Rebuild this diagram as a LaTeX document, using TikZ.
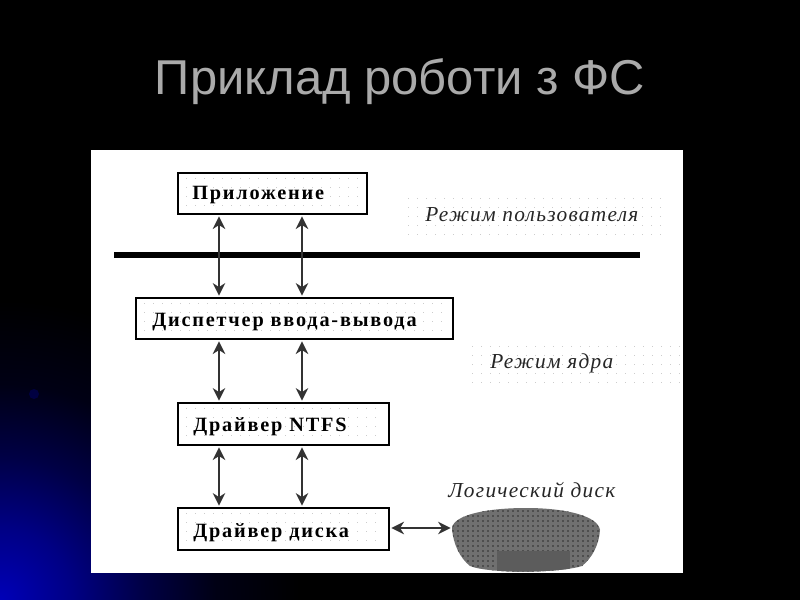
\documentclass[tikz,border=0pt]{standalone}
\usepackage{fontspec}
\setmainfont{Liberation Serif}
\newfontfamily\titlefont{Liberation Sans}
\newfontfamily\boxfont[LetterSpace=9]{Liberation Serif Bold}
\newfontfamily\modefont[LetterSpace=6]{Liberation Serif Italic}
\usetikzlibrary{arrows.meta}
\definecolor{titlegray}{RGB}{170,170,170}
\definecolor{diskgray}{RGB}{112,112,112}
\definecolor{diskdark}{RGB}{78,78,78}
\definecolor{diskpatch}{RGB}{92,92,92}
\pgfdeclareradialshading{bluecorner}{\pgfpoint{0bp}{0bp}}{
  rgb(0bp)=(0,0,0.72);
  rgb(6bp)=(0,0,0.52);
  rgb(12bp)=(0,0,0.27);
  rgb(18bp)=(0,0,0.08);
  rgb(25bp)=(0,0,0);
  rgb(50bp)=(0,0,0)}
\tikzset{
  layerbox/.style={draw=black,line width=1.6pt,inner sep=0pt,anchor=north west,fill=white},
  boxlabel/.style={font=\boxfont\fontsize{15.2}{17}\selectfont,text=black,inner sep=0pt,anchor=west},
  modelabel/.style={font=\modefont\fontsize{16}{18}\selectfont,text=black!85,inner sep=0pt,anchor=west},
  biarrow/.style={draw=black!80,line width=1pt,{Stealth[length=9.5pt,width=9.5pt]}-{Stealth[length=9.5pt,width=9.5pt]},shorten <=1pt,shorten >=1pt},
  barline/.style={line width=3.8pt,black},
  dotmark/.style={fill=black!20}
}
\newcommand{\dotfield}[4]{%
  \foreach \xx in {#1,\the\numexpr#1+9\relax,...,#3}
    \foreach \yy in {#2,\the\numexpr#2+9\relax,...,#4}
      \fill[dotmark] (\xx,\yy) rectangle ++(1,1);}
\newcommand{\diskpath}{(452,528) .. controls (454,514) and (490,508) .. (526,508) .. controls (566,508) and (598,516) .. (600,530) .. controls (599,545) and (592,558) .. (582,566) .. controls (560,573) and (490,574) .. (470,566) .. controls (460,558) and (453,544) .. (452,528) -- cycle}
\begin{document}
\begin{tikzpicture}[x=0.75pt,y=-0.75pt]
\useasboundingbox (0,0) rectangle (800,600);
\fill[black] (0,0) rectangle (800,600);
\begin{scope}
  \clip (0,0) rectangle (800,600);
  \shade[shading=bluecorner] (0,600) circle [radius=300];
  \fill[blue!45!black,opacity=.45] (34,394) circle [radius=5];
\end{scope}
\node[font=\titlefont\fontsize{36.7}{40}\selectfont,text=titlegray,inner sep=0pt] (title) at (400,82) {Приклад роботи з ФС};
\fill[white] (91,150) rectangle (683,573);
\dotfield{408}{198}{660}{234}
\dotfield{472}{346}{680}{382}
% boxes
\node[layerbox,minimum width=189*0.75pt,minimum height=41*0.75pt] (app) at (177,172) {};
\node[layerbox,minimum width=317*0.75pt,minimum height=41*0.75pt] (disp) at (135,297) {};
\node[layerbox,minimum width=211*0.75pt,minimum height=42*0.75pt] (ntfs) at (177,402) {};
\node[layerbox,minimum width=211*0.75pt,minimum height=42*0.75pt] (drv) at (177,507) {};
\dotfield{186}{178}{358}{208}
\dotfield{144}{303}{444}{333}
\dotfield{186}{408}{380}{438}
\dotfield{186}{513}{380}{543}
\node[boxlabel] (apptext) at (192,195) {Приложение};
\node[boxlabel] (disptext) at (152,322) {Диспетчер ввода-вывода};
\node[boxlabel] (ntfstext) at (193,427) {Драйвер NTFS};
\node[boxlabel] (drvtext) at (193,533) {Драйвер диска};
% mode labels
\node[modelabel] (user) at (425,215) {Режим пользователя};
\node[modelabel] (kernel) at (490,363) {Режим ядра};
\node[modelabel] (logical) at (448,490) {Логический диск};
% bar
\coordinate (barL) at (114,255);
\coordinate (barR) at (640,255);
\draw[barline] (barL) -- (barR);
% disk
\fill[diskgray] \diskpath;
\begin{scope}
  \clip \diskpath;
  \foreach \xx in {452,457,...,600}
    \foreach \yy in {510,515,...,572}
      \fill[diskdark] (\xx,\yy) rectangle ++(2,2);
  \fill[diskpatch] (497,551) rectangle (570,574);
\end{scope}
\coordinate (diskW) at (452,528);
% connectors
\coordinate (cA) at (219,0);
\coordinate (cB) at (302,0);
\draw[biarrow] (app.south -| cA) -- (disp.north -| cA);
\draw[biarrow] (app.south -| cB) -- (disp.north -| cB);
\draw[biarrow] (disp.south -| cA) -- (ntfs.north -| cA);
\draw[biarrow] (disp.south -| cB) -- (ntfs.north -| cB);
\draw[biarrow] (ntfs.south -| cA) -- (drv.north -| cA);
\draw[biarrow] (ntfs.south -| cB) -- (drv.north -| cB);
\draw[biarrow] (drv.east |- diskW) -- (diskW);
\end{tikzpicture}
\end{document}
